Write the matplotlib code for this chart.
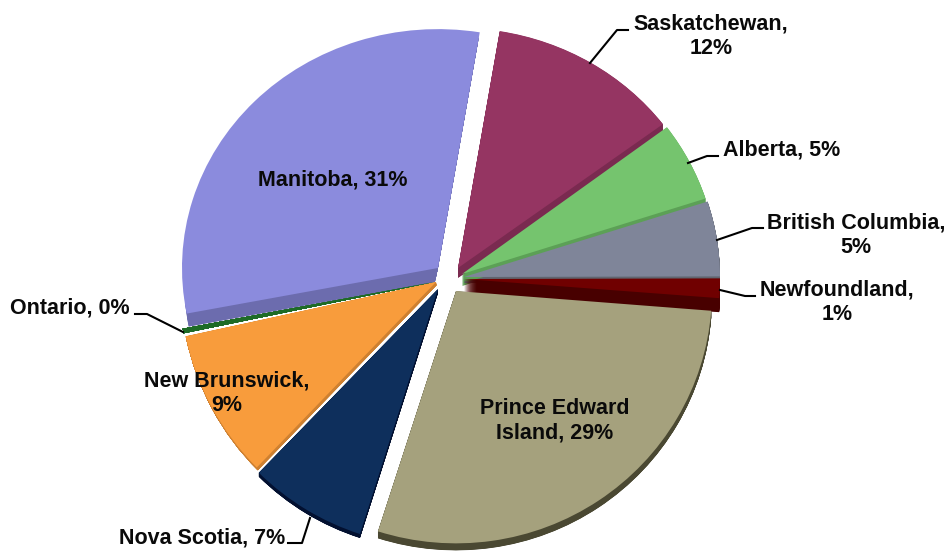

# pie chart of share by province, exploded slices with a darker rim under them
import matplotlib
matplotlib.use('Agg')
import matplotlib.pyplot as plt
from matplotlib.transforms import Affine2D

provinces = ['Manitoba', 'Saskatchewan', 'Alberta', 'British Columbia', 'Newfoundland',
             'Prince Edward Island', 'Nova Scotia', 'New Brunswick', 'Ontario']
shares = [31.0, 12.3, 5.3, 5.0, 1.3, 29.0, 7.49, 9.41, 0.3]
shown_pct = [31, 12, 5, 5, 1, 29, 7, 9, 0]

top_colors = ['#8B8BDD', '#953562', '#75C46E', '#7F8599', '#700000',
              '#A5A17D', '#0E2F5C', '#F89C3C', '#1E6B26']
rim_colors = ['#6C6CAE', '#7A2A50', '#5CA056', '#60656F', '#480000',
              '#4A4832', '#021030', '#CE8030', '#1E6B26']

# where each slice's tip sits on the page, in pixels
tips = [(438, 268), (458, 268), (462, 274), (464, 277), (464, 279),
        (456, 291), (438, 289), (436, 282), (434, 282)]
# how far the rim reaches below the top face, in pixels
rim_shift = [(-3, 14), (0, 10), (0, 12), (0, 6), (0, 14),
             (0, 7), (0, 4), (1, 3), (0, 0)]
rim_radius = [0.98, 1, 1, 1, 1, 1, 1, 1, 1]
# the lower slices are a bit taller than the upper ones (perspective of the original)
stretch = [0.975, 0.98, 1, 1, 1, 1.03, 1.05, 1.06, 1]

# label text centre in pixels, and the leader line if there is one
labels = {
    'Manitoba': ('Manitoba, 31%', 333, 180, None),
    'Saskatchewan': ('Saskatchewan,\n12%', 711, 36, [(590, 63), (617, 30), (628, 30)]),
    'Alberta': ('Alberta, 5%', 782, 150, [(688, 163), (707, 156), (718, 156)]),
    'British Columbia': ('British Columbia,\n5%', 856, 235, [(717, 240), (752, 228), (763, 228)]),
    'Newfoundland': ('Newfoundland,\n1%', 837, 302, [(720, 290), (745, 296), (755, 296)]),
    'Prince Edward Island': ('Prince Edward\nIsland, 29%', 555, 421, None),
    'Nova Scotia': ('Nova Scotia, 7%', 202, 538, [(310, 518), (302, 543), (288, 543)]),
    'New Brunswick': ('New Brunswick,\n9%', 227, 393, None),
    'Ontario': ('Ontario, 0%', 70, 308, [(183, 332), (147, 314), (135, 314)]),
}

plt.rcParams['font.family'] = ['Liberation Sans', 'DejaVu Sans']

RX, RY = 256, 245
CX, CY = 464, 272
RIM_STEPS = 28


def to_data(px, py):
    return (px - CX) / RX, (CY - py) / RY


def place(wedge, px, py, k):
    # move the slice so its tip is at px, py and stretch it vertically about the tip
    x, y = to_data(px, py)
    wedge.set_center((x, y))
    wedge.set_transform(Affine2D().translate(0, -y).scale(1, k).translate(0, y) + ax.transData)


fig = plt.figure(figsize=(9.47, 5.52), dpi=100)
ax = fig.add_axes([0, 0, 1, 1])

# the rim is the same pie stacked several times, so it reads as a solid wall
rim_layers = []
for step in range(RIM_STEPS):
    wedges, _ = ax.pie(shares, colors=rim_colors, startangle=191, counterclock=False)
    rim_layers.append(wedges)
top_wedges, _ = ax.pie(shares, colors=top_colors, startangle=191, counterclock=False)

ax.set_aspect('auto')
ax.set_xlim(to_data(0, 0)[0], to_data(947, 0)[0])
ax.set_ylim(to_data(0, 552)[1], to_data(0, 0)[1])
ax.axis('off')

for i in range(len(shares)):
    place(top_wedges[i], tips[i][0], tips[i][1], stretch[i])
    top_wedges[i].set_zorder(1)
    for step, wedges in enumerate(rim_layers):
        f = (step + 1) / RIM_STEPS
        place(wedges[i], tips[i][0] + rim_shift[i][0] * f, tips[i][1] + rim_shift[i][1] * f, stretch[i])
        wedges[i].set_radius(rim_radius[i])
        # Newfoundland's dark wall has to sit over the British Columbia one
        wedges[i].set_zorder(0.6 if provinces[i] == 'Newfoundland' else 0.5)

for name in provinces:
    text, x, y, leader = labels[name]
    tx, ty = to_data(x, y)
    ax.text(tx, ty, text, ha='center', va='center', fontsize=15.5, fontweight='bold',
            color='#0A0A0A', linespacing=1.2)
    if leader:
        pts = [to_data(p[0], p[1]) for p in leader]
        ax.plot([p[0] for p in pts], [p[1] for p in pts], color='black', lw=1.5)

fig.savefig('out.png', dpi=100)
